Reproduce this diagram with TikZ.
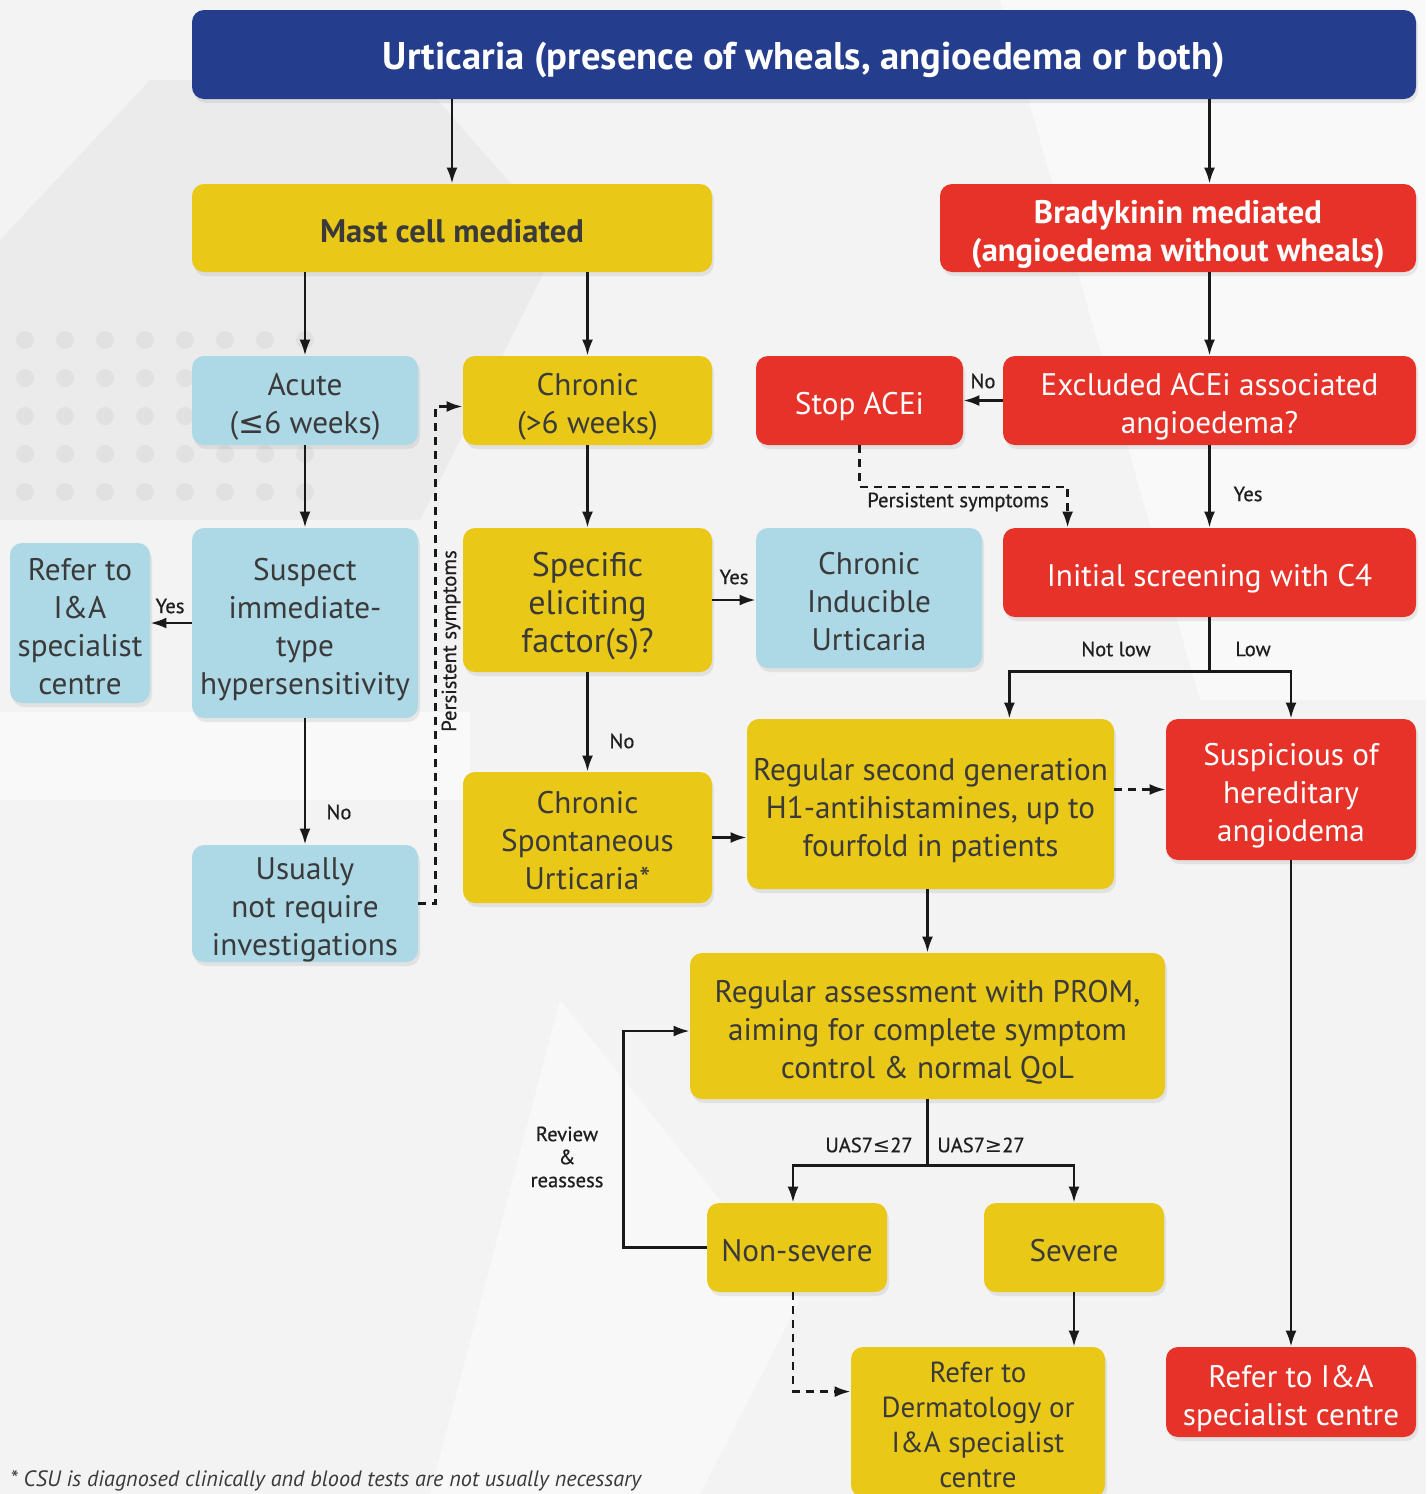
\documentclass[tikz,border=0pt]{standalone}
\usepackage{fontspec}
\setmainfont{PT Sans}
\newfontfamily\symfont{DejaVu Sans}
\newfontfamily\semib{PT Sans}[FakeBold=0.6]
\usetikzlibrary{arrows.meta,shadows,calc}
\definecolor{tblue}{HTML}{253D8D}
\definecolor{tyel}{HTML}{E9C817}
\definecolor{tred}{HTML}{E63228}
\definecolor{tlblue}{HTML}{ADD8E6}
\definecolor{tdark}{HTML}{3A3A3A}
\definecolor{bgc}{HTML}{F3F3F3}
\newcommand{\myle}{{\symfont ≤}}
\newcommand{\myge}{{\symfont ≥}}
\newcommand{\bt}[1]{\raisebox{-3.2pt}[\height][\depth]{\begin{tabular}{@{}c@{}}#1\end{tabular}}}
\begin{document}
\begin{tikzpicture}[x=0.5pt,y=-0.5pt,
  box/.style={rounded corners=6pt, inner sep=0pt, text=tdark,
    font=\fontsize{15.6}{19}\selectfont,
    drop shadow={opacity=0.15, shadow xshift=1pt, shadow yshift=-2pt}},
  wh/.style 2 args={minimum width=#1*0.5pt, minimum height=#2*0.5pt},
  ybox/.style={box, fill=tyel},
  rbox/.style={box, fill=tred, text=white},
  lbox/.style={box, fill=tlblue},
  lbl/.style={font=\semib\fontsize{10.3}{11.5}\selectfont, text=black!88, inner sep=0pt, align=center},
  conn/.style={line width=1.25pt, draw=black!90},
  arr/.style={conn, -{Latex[length=8pt,width=5.5pt]}},
  darr/.style={arr, dash pattern=on 4pt off 3pt}]
\useasboundingbox (0,0) rectangle (1426,1494);
\fill[bgc] (0,0) rectangle (1426,1494);
% faint background texture
\fill[white, opacity=0.55] (0,712) rectangle (470,800);
\fill[white, opacity=0.5] (1000,0) -- (1426,0) -- (1426,700) -- (1200,700) -- cycle;
\fill[white, opacity=0.45] (560,1000) -- (800,1300) -- (700,1494) -- (430,1494) -- cycle;
\fill[black, opacity=0.03] (0,240) -- (150,80) -- (420,80) -- (560,240) -- (420,520) -- (0,520) -- cycle;
\foreach \i in {0,...,7}{\foreach \j in {0,...,4}{
  \fill[black, opacity=0.04] (25+\i*40, 340+\j*38) circle (9);}}

% nodes
\node[box, fill=tblue, text=white, wh={1224}{89}, font=\bfseries\fontsize{19.3}{22}\selectfont] (title) at (804,54.5) {\bt{Urticaria (presence of wheals, angioedema or both)}};
\node[ybox, wh={520}{88}, font=\bfseries\fontsize{16.3}{19}\selectfont] (mast) at (452,228) {\bt{Mast cell mediated}};
\node[rbox, wh={476}{88}, font=\bfseries\fontsize{16.3}{19}\selectfont] (brady) at (1178,228) {\bt{Bradykinin mediated\\(angioedema without wheals)}};
\node[lbox, wh={226}{89}] (acute) at (305,400.5) {\bt{Acute\\(\myle6 weeks)}};
\node[ybox, wh={249}{89}] (chronic) at (587.5,400.5) {\bt{Chronic\\(\textgreater6 weeks)}};
\node[rbox, wh={207}{89}] (stop) at (859.5,400.5) {\bt{Stop ACEi}};
\node[rbox, wh={413}{89}] (excl) at (1209.5,400.5) {\bt{Excluded ACEi associated\\angioedema?}};
\node[lbox, wh={140}{160}] (referL) at (80,623) {\bt{Refer to\\I\&A\\specialist\\centre}};
\node[lbox, wh={226}{190}] (suspect) at (305,623) {\bt{Suspect\\immediate-\\type\\hypersensitivity}};
\node[ybox, wh={249}{144}, font=\fontsize{17}{19}\selectfont] (specific) at (587.5,600) {\bt{Specific\\eliciting\\factor(s)?}};
\node[lbox, wh={226}{140}] (cindu) at (869,598) {\bt{Chronic\\Inducible\\Urticaria}};
\node[rbox, wh={413}{89}] (initial) at (1209.5,572.5) {\bt{Initial screening with C4}};
\node[ybox, wh={367}{170}] (regular) at (930.5,804) {\bt{Regular second generation\\H1-antihistamines, up to\\fourfold in patients}};
\node[rbox, wh={250}{141}] (suspic) at (1291,789.5) {\bt{Suspicious of\\hereditary\\angiodema}};
\node[ybox, wh={249}{131}] (csu) at (587.5,837.5) {\bt{Chronic\\Spontaneous\\Urticaria*}};
\node[lbox, wh={226}{117}] (usually) at (305,903.5) {\bt{Usually\\not require\\investigations}};
\node[ybox, wh={475}{146}] (prom) at (927.5,1026) {\bt{Regular assessment with PROM,\\aiming for complete symptom\\control \& normal QoL}};
\node[ybox, wh={180}{89}] (nonsev) at (797,1247.5) {\bt{Non-severe}};
\node[ybox, wh={180}{89}] (severe) at (1074,1247.5) {\bt{Severe}};
\node[ybox, wh={254}{150}, font=\fontsize{14.5}{17.5}\selectfont] (referD) at (978,1422) {\bt{Refer to\\Dermatology or\\I\&A specialist\\centre}};
\node[rbox, wh={250}{90}] (referR) at (1291,1392) {\bt{Refer to I\&A\\specialist centre}};
\node[anchor=base west, inner sep=0pt, font=\itshape\fontsize{11.1}{12}\selectfont, text=tdark] (foot) at (10,1486) {* CSU is diagnosed clinically and blood tests are not usually necessary};

% connectors
\draw[arr] (title.south -| mast.north) -- (mast.north);
\draw[arr] (title.south -| excl.north) -- (brady.north -| excl.north);
\draw[arr] (mast.south -| acute.north) -- (acute.north);
\draw[arr] (mast.south -| chronic.north) -- (chronic.north);
\draw[arr] (brady.south -| excl.north) -- (excl.north);
\draw[arr] (excl.west) -- (stop.east);
\node[lbl] (lNoA) at (983,381) {No};
\draw[arr] (excl.south) -- (initial.north);
\node[lbl] (lYesA) at (1248,494) {Yes};
\coordinate (psTgt) at ($(initial.north west)+(65,0)$);
\draw[darr] (stop.south) -- (stop.south |- 0,487) -| (psTgt);
\node[lbl] (lPersA) at (958,502) {Persistent symptoms};

\draw[arr] (acute.south) -- (suspect.north);
\draw[arr] (suspect.west) -- (referL.east);
\node[lbl] (lYesB) at (170,606) {Yes};
\draw[arr] (suspect.south) -- (usually.north);
\node[lbl] (lNoB) at (339,812) {No};
\coordinate (chrIn) at ($(chronic.west)+(0,6)$);
\draw[darr] (usually.east) -- ++(17,0) |- (chrIn);
\node[lbl, rotate=90] (lPersB) at (451,641) {Persistent symptoms};

\draw[arr] (chronic.south) -- (specific.north);
\draw[arr] (specific.east) -- (specific.east -| cindu.west);
\node[lbl] (lYesC) at (734,577) {Yes};
\draw[arr] (specific.south) -- (csu.north);
\node[lbl] (lNoC) at (622,741) {No};
\draw[arr] (csu.east) -- (csu.east -| regular.west);

\coordinate (splitA) at ($(initial.south)+(0,54)$);
\coordinate (regIn) at ($(regular.north east)+(-105,0)$);
\draw[conn] (initial.south) -- (splitA);
\draw[arr] (splitA) -| (regIn);
\draw[arr] (splitA) -| (suspic.north);
\node[lbl] (lNotLow) at (1116,649) {Not low};
\node[lbl] (lLow) at (1253,649) {Low};
\draw[darr] (regular.east |- suspic.west) -- (suspic.west);
\draw[arr] (regular.south -| prom.north) -- (prom.north);

\coordinate (splitB) at ($(prom.south)+(0,66)$);
\draw[conn] (prom.south) -- (splitB);
\draw[arr] (splitB) -| ($(nonsev.north)+(-4,0)$);
\draw[arr] (splitB) -| (severe.north);
\node[lbl] (lUasA) at (869,1145) {UAS7\myle27};
\node[lbl] (lUasB) at (981,1145) {UAS7\myge27};
\coordinate (promIn) at ($(prom.west)+(0,5)$);
\draw[arr] (nonsev.west) -- ++(-83,0) |- (promIn);
\node[lbl] (lReview) at (567,1157) {Review\\\&\\reassess};
\coordinate (refDIn) at ($(referD.north west)+(0,45)$);
\draw[darr] ($(nonsev.south)+(-4,0)$) |- (refDIn);
\draw[arr] (severe.south) -- (severe.south |- referD.north);
\draw[arr] (suspic.south) -- (referR.north);
\end{tikzpicture}
\end{document}
